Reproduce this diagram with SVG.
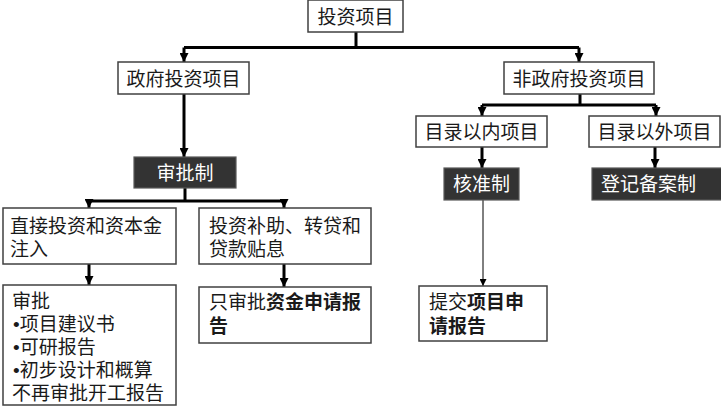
<svg xmlns="http://www.w3.org/2000/svg" width="721" height="408" viewBox="0 0 721 408">
<style>
  .box { fill: #ffffff; stroke: #404040; stroke-width: 1.5; }
  .dark { fill: #333333; stroke: #595959; stroke-width: 1.2; }
  .t { font-family: "Noto Sans CJK SC", "Liberation Sans", sans-serif; font-size: 19px; fill: #1a1a1a; }
  .w { fill: #ffffff; }
  .b { font-weight: bold; }
  .bul { font-family: "Liberation Sans", sans-serif; }
  .thick { stroke: #000000; stroke-width: 3; fill: none; }
  .thin { stroke: #000000; stroke-width: 1; fill: none; }
</style>
<defs>
  <marker id="ah" markerUnits="userSpaceOnUse" markerWidth="9" markerHeight="9" refX="9" refY="4.5" orient="auto">
    <path d="M0,0 L9,4.5 L0,9 z" fill="#000000"/>
  </marker>
  <marker id="ahs" markerUnits="userSpaceOnUse" markerWidth="7" markerHeight="7" refX="7" refY="3.5" orient="auto">
    <path d="M0,0 L7,3.5 L0,7 z" fill="#000000"/>
  </marker>
</defs>
<rect width="721" height="408" fill="#ffffff"/>

<g id="connectors">
  <path class="thick" d="M356,32 V47.5"/>
  <path class="thick" d="M184,47.5 H579"/>
  <path class="thick" d="M184,47.5 V62" marker-end="url(#ah)"/>
  <path class="thick" d="M579,47.5 V62" marker-end="url(#ah)"/>
  <path class="thick" d="M184,94 V157" marker-end="url(#ah)"/>
  <path class="thick" d="M185,188 V201"/>
  <path class="thick" d="M89,201 H284"/>
  <path class="thick" d="M89,201 V208" marker-end="url(#ah)"/>
  <path class="thick" d="M284,201 V208" marker-end="url(#ah)"/>
  <path class="thick" d="M89,264 V285" marker-end="url(#ah)"/>
  <path class="thick" d="M284,264 V287" marker-end="url(#ah)"/>
  <path class="thick" d="M580,94 V105"/>
  <path class="thick" d="M482,105 H656"/>
  <path class="thick" d="M482,105 V116" marker-end="url(#ah)"/>
  <path class="thick" d="M656,105 V116" marker-end="url(#ah)"/>
  <path class="thick" d="M482,147 V168" marker-end="url(#ah)"/>
  <path class="thick" d="M655,147 V168" marker-end="url(#ah)"/>
  <path class="thin" d="M483,200 V286" marker-end="url(#ahs)"/>
</g>

<g id="n-root">
  <rect class="box" x="308" y="0" width="95" height="32"/>
  <text class="t" x="355.5" y="23.5" text-anchor="middle">投资项目</text>
</g>
<g id="n-gov">
  <rect class="box" x="118" y="62" width="131" height="32"/>
  <text class="t" x="183.5" y="86" text-anchor="middle">政府投资项目</text>
</g>
<g id="n-nongov">
  <rect class="box" x="504" y="62" width="150" height="32"/>
  <text class="t" x="579" y="86" text-anchor="middle">非政府投资项目</text>
</g>
<g id="n-approve">
  <rect class="dark" x="134" y="157" width="102" height="31"/>
  <text class="t w" x="185" y="180" text-anchor="middle">审批制</text>
</g>
<g id="n-direct">
  <rect class="box" x="3" y="208" width="173" height="56"/>
  <text class="t" x="10" y="233">直接投资和资本金<tspan x="10" dy="23">注入</tspan></text>
</g>
<g id="n-subsidy">
  <rect class="box" x="199" y="208" width="172" height="56"/>
  <text class="t" x="209" y="233">投资补助、转贷和<tspan x="209" dy="23">贷款贴息</tspan></text>
</g>
<g id="n-list">
  <rect class="box" x="3" y="285" width="173" height="120"/>
  <text class="t" x="12" y="308">审批<tspan x="13" dy="23"><tspan class="bul">•</tspan>项目建议书</tspan><tspan x="13" dy="23"><tspan class="bul">•</tspan>可研报告</tspan><tspan x="13" dy="23"><tspan class="bul">•</tspan>初步设计和概算</tspan><tspan x="12" dy="23">不再审批开工报告</tspan></text>
</g>
<g id="n-fund">
  <rect class="box" x="199" y="287" width="172" height="56"/>
  <text class="t" x="209" y="309">只审批<tspan class="b">资金申请报</tspan><tspan class="b" x="209" dy="24">告</tspan></text>
</g>
<g id="n-in">
  <rect class="box" x="416" y="116" width="131" height="31"/>
  <text class="t" x="481.5" y="139" text-anchor="middle">目录以内项目</text>
</g>
<g id="n-out">
  <rect class="box" x="589" y="116" width="131" height="31"/>
  <text class="t" x="654.5" y="139" text-anchor="middle">目录以外项目</text>
</g>
<g id="n-verify">
  <rect class="dark" x="444" y="168" width="75" height="32"/>
  <text class="t w" x="481.5" y="191" text-anchor="middle">核准制</text>
</g>
<g id="n-record">
  <rect class="dark" x="592" y="168" width="132" height="32"/>
  <text class="t w" x="601" y="191">登记备案制</text>
</g>
<g id="n-submit">
  <rect class="box" x="419" y="286" width="128" height="55"/>
  <text class="t" x="429" y="309">提交<tspan class="b">项目申</tspan><tspan class="b" x="429" dy="24">请报告</tspan></text>
</g>
</svg>
